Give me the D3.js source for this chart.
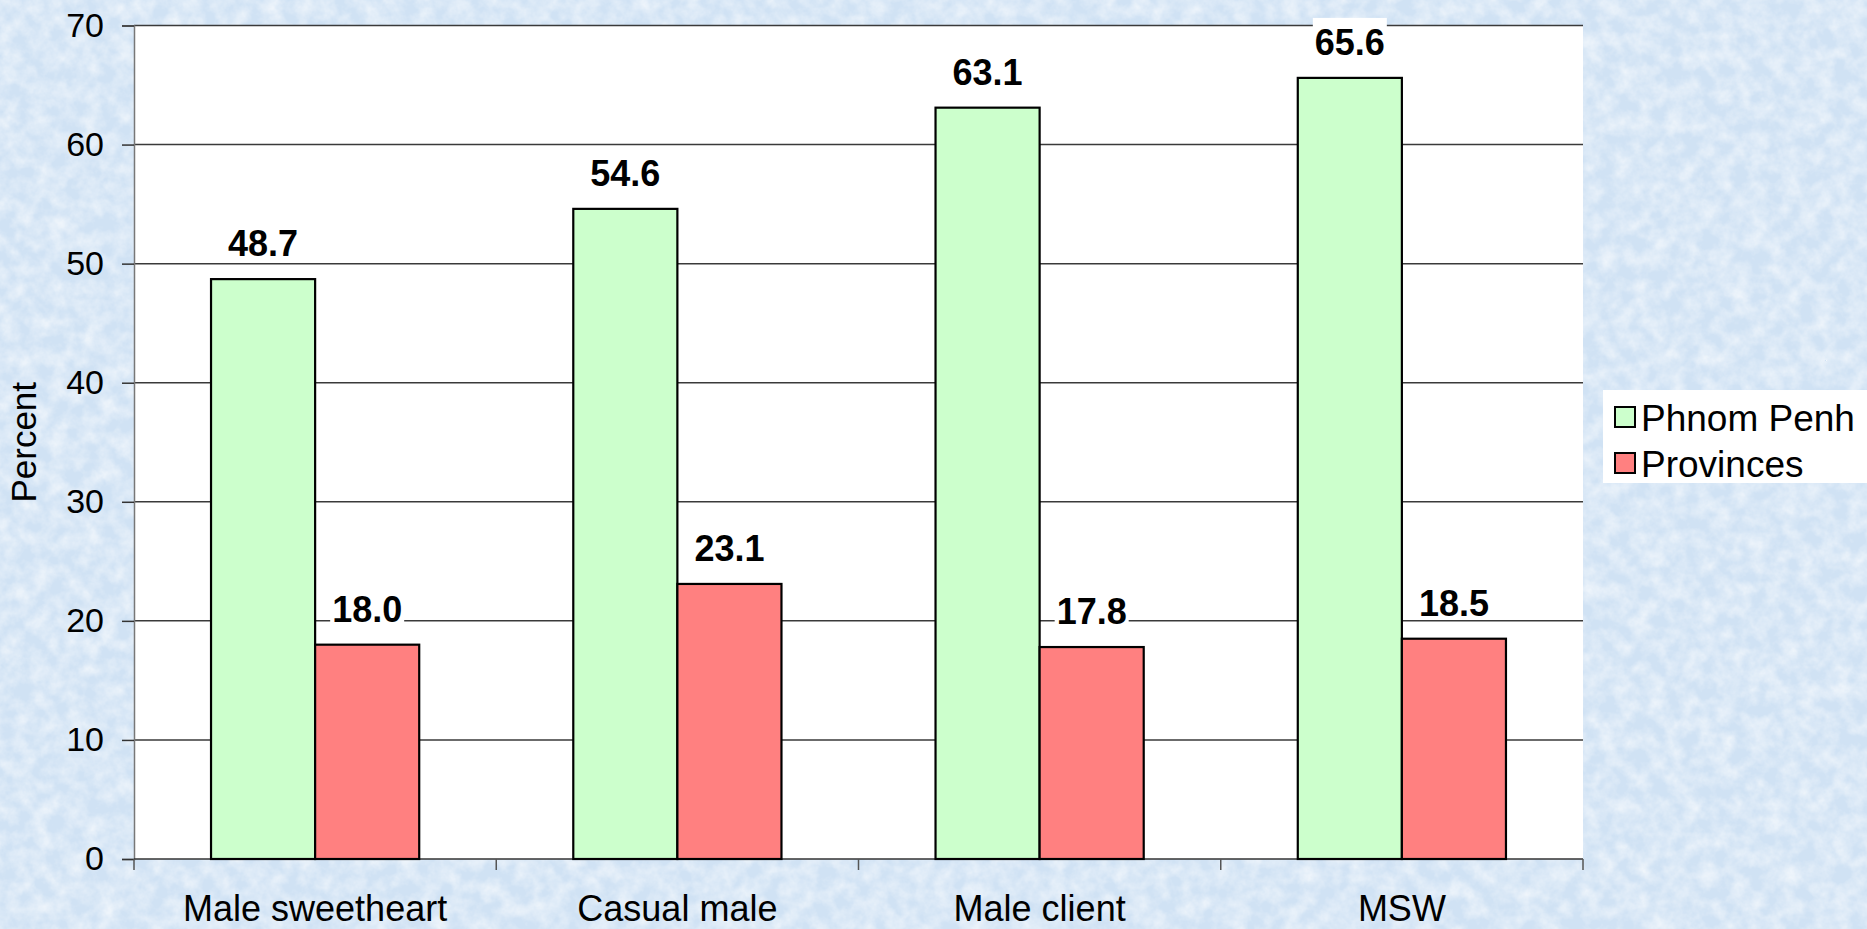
<!DOCTYPE html>
<html>
<head>
<meta charset="utf-8">
<script src="https://cdn.jsdelivr.net/npm/d3@7"></script>
<style>
    html, body { margin: 0; padding: 0; overflow: hidden; }
    svg { display: block; }
    text { font-family: Arial, "Liberation Sans", sans-serif; }
</style>
</head>
<body>
<script>
// chart data
const categories = ['Male sweetheart', 'Casual male', 'Male client', 'MSW'];
const seriesNames = ['Phnom Penh', 'Provinces'];
const phnomPenh = [48.7, 54.6, 63.1, 65.6];
const provinces = [18.0, 23.1, 17.8, 18.5];
const yTicks = [0, 10, 20, 30, 40, 50, 60, 70];
const colors = ['#ccffcc', '#ff8080'];

const draw = () => {
    let w = 1867,
        h = 929;

    let margin = {top: 25.5, left: 134, right: 284, bottom: 70};
    let plotW = w - margin.left - margin.right,
        plotH = h - margin.top - margin.bottom;

    let rows = categories.map((c, i) => ({
        category: c,
        values: [phnomPenh[i], provinces[i]]
    }));

    let svg = d3.select('body')
        .append('svg')
        .attr('width', w)
        .attr('height', h);

    // textured blue background
    let defs = svg.append('defs');
    let filter = defs.append('filter')
        .attr('id', 'paper')
        .attr('x', 0).attr('y', 0)
        .attr('width', '100%').attr('height', '100%');
    filter.append('feTurbulence')
        .attr('type', 'fractalNoise')
        .attr('baseFrequency', '0.06')
        .attr('numOctaves', 4)
        .attr('seed', 7);
    filter.append('feColorMatrix')
        .attr('type', 'matrix')
        .attr('values', '0 0 0 0 1  0 0 0 0 1  0 0 0 0 1  1.1 0 0 0 -0.35');

    svg.append('rect')
        .attr('width', w)
        .attr('height', h)
        .attr('fill', '#d0e2f4');
    svg.append('rect')
        .attr('width', w)
        .attr('height', h)
        .attr('filter', 'url(#paper)');

    let g = svg.append('g')
        .attr('transform', `translate(${margin.left},${margin.top})`);

    // scales
    let x0 = d3.scaleBand()
        .domain(categories)
        .range([0, plotW]);

    let x1 = d3.scaleBand()
        .domain(seriesNames)
        .range([0, x0.bandwidth()])
        .paddingOuter(0.74);

    let y = d3.scaleLinear()
        .domain([0, 70])
        .range([plotH, 0]);

    // plot area
    g.append('rect')
        .attr('width', plotW)
        .attr('height', plotH)
        .attr('fill', '#ffffff');

    // gridlines
    g.selectAll('.grid')
        .data(yTicks.filter(d => d > 0))
        .enter()
        .append('line')
        .attr('class', 'grid')
        .attr('x1', 0)
        .attr('x2', plotW)
        .attr('y1', d => y(d))
        .attr('y2', d => y(d))
        .attr('stroke', '#3a3a3a')
        .attr('stroke-width', 1.5);

    // y axis
    let yAxis = g.append('g')
        .call(d3.axisLeft(y).tickValues(yTicks).tickSize(12).tickPadding(18))
    yAxis.select('.domain').attr('stroke', '#777').attr('stroke-width', 1.5);
    yAxis.selectAll('.tick line').attr('stroke', '#333').attr('stroke-width', 1.5);
    yAxis.selectAll('.tick text')
        .attr('font-size', 34)
        .attr('fill', '#000')
        .style('font-family', 'Arial, "Liberation Sans", sans-serif');

    // x axis with ticks between categories
    let xAxis = g.append('g')
        .attr('transform', `translate(0,${plotH})`);
    xAxis.append('line')
        .attr('x1', 0)
        .attr('x2', plotW)
        .attr('stroke', '#333')
        .attr('stroke-width', 1.5);
    xAxis.selectAll('.xtick')
        .data(categories.concat(['end']))
        .enter()
        .append('line')
        .attr('class', 'xtick')
        .attr('x1', (d, i) => i * x0.step())
        .attr('x2', (d, i) => i * x0.step())
        .attr('y1', 0)
        .attr('y2', 11)
        .attr('stroke', '#555')
        .attr('stroke-width', 1.5);
    xAxis.selectAll('.xlabel')
        .data(categories)
        .enter()
        .append('text')
        .attr('class', 'xlabel')
        .attr('x', d => x0(d) + x0.bandwidth() / 2)
        .attr('y', 62)
        .attr('text-anchor', 'middle')
        .attr('font-size', 36)
        .text(d => d);

    // bars
    let groups = g.selectAll('.group')
        .data(rows)
        .enter()
        .append('g')
        .attr('class', 'group')
        .attr('transform', d => `translate(${x0(d.category)},0)`);

    groups.selectAll('rect')
        .data(d => d.values.map((v, i) => ({series: seriesNames[i], value: v, idx: i})))
        .enter()
        .append('rect')
        .attr('x', d => x1(d.series))
        .attr('y', d => y(d.value))
        .attr('width', x1.bandwidth())
        .attr('height', d => plotH - y(d.value))
        .attr('fill', d => colors[d.idx])
        .attr('stroke', '#000')
        .attr('stroke-width', 2.2);

    // value labels with white backing
    let labels = groups.selectAll('.val')
        .data(d => d.values.map((v, i) => ({series: seriesNames[i], value: v})))
        .enter()
        .append('g')
        .attr('class', 'val')
        .attr('transform', d => `translate(${x1(d.series) + x1.bandwidth() / 2},${y(d.value) - 23})`);

    labels.append('rect')
        .attr('x', -37)
        .attr('y', -37)
        .attr('width', 74)
        .attr('height', 39)
        .attr('fill', '#fff');

    labels.append('text')
        .attr('text-anchor', 'middle')
        .attr('font-size', 36)
        .attr('font-weight', 'bold')
        .text(d => d3.format('.1f')(d.value));

    // y axis title
    svg.append('text')
        .attr('transform', `translate(36,${margin.top + y(35)}) rotate(-90)`)
        .attr('text-anchor', 'middle')
        .attr('font-size', 35)
        .text('Percent');

    // legend
    let legend = svg.append('g')
        .attr('transform', 'translate(1603,390)');
    legend.append('rect')
        .attr('width', 264)
        .attr('height', 93)
        .attr('fill', '#fff');

    let items = legend.selectAll('.item')
        .data(seriesNames)
        .enter()
        .append('g')
        .attr('class', 'item')
        .attr('transform', (d, i) => `translate(12,${17 + i * 46})`);
    items.append('rect')
        .attr('width', 20)
        .attr('height', 20)
        .attr('fill', (d, i) => colors[i])
        .attr('stroke', '#000')
        .attr('stroke-width', 2);
    items.append('text')
        .attr('x', 26)
        .attr('y', 24)
        .attr('font-size', 37)
        .text(d => d);
}

draw()
</script>
</body>
</html>
